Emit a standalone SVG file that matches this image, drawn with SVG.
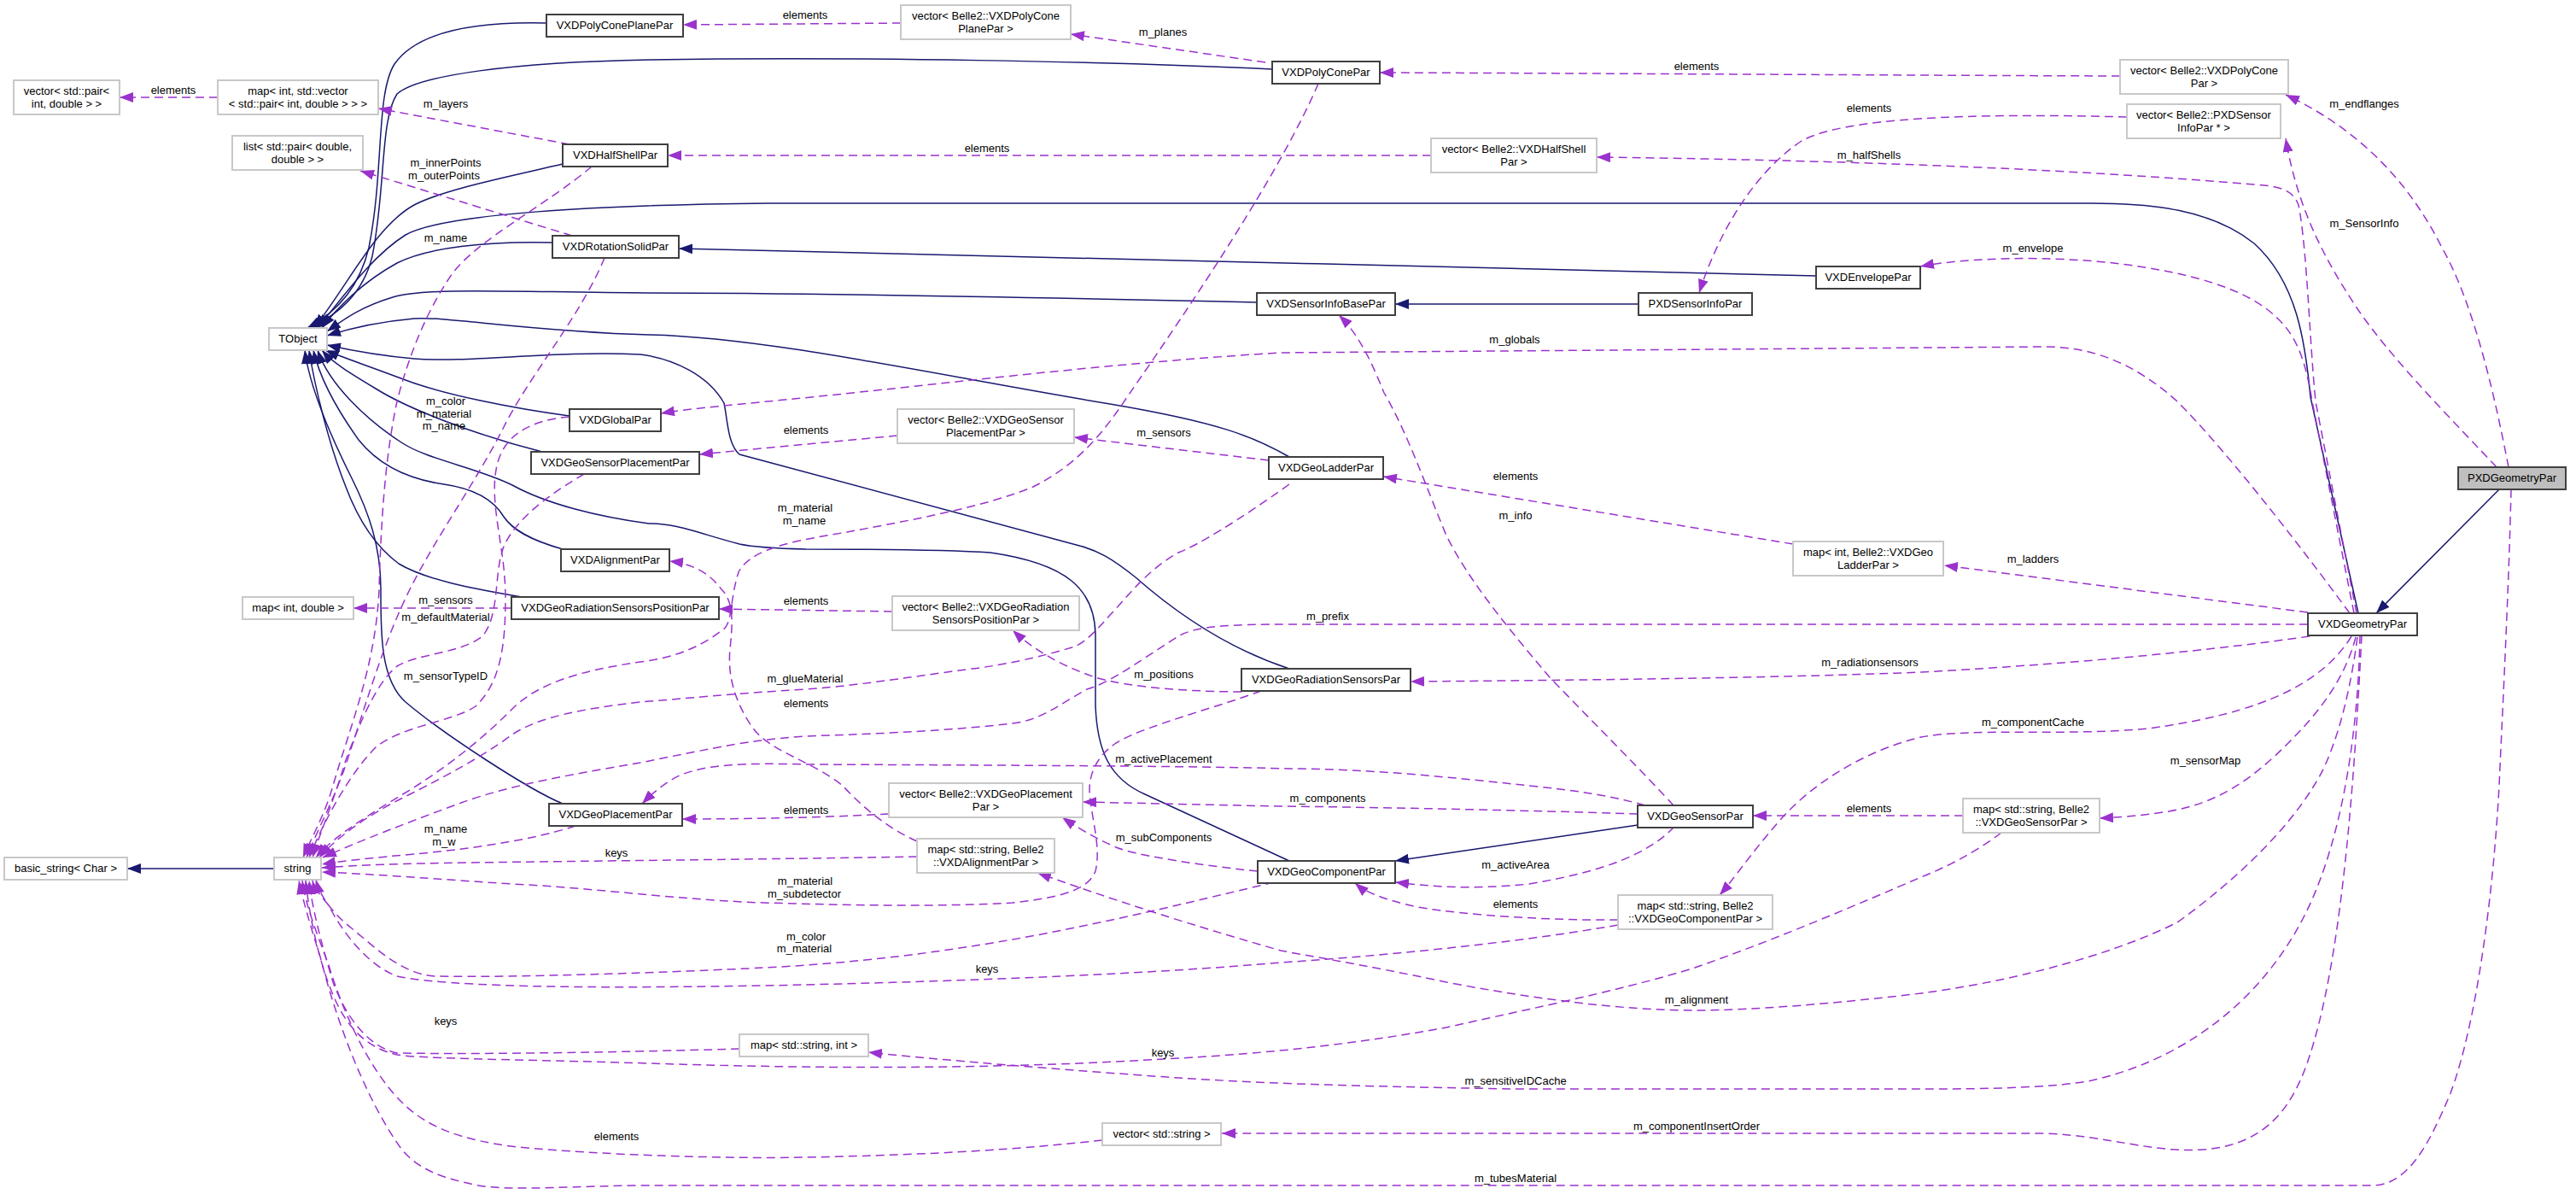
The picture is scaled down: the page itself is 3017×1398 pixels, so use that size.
<svg xmlns="http://www.w3.org/2000/svg" width="3017" height="1398" viewBox="0 0 3017 1398">
<style>
text{font-family:"Liberation Sans",Arial,sans-serif;font-size:13px;fill:#000;text-anchor:middle}
.c rect{fill:#fff;stroke:#404040;stroke-width:2}
.g rect{fill:#fff;stroke:#c8c8c8;stroke-width:2}
.h rect{fill:#bfbfbf;stroke:#404040;stroke-width:2}
.e{fill:none;stroke:#191970;stroke-width:1.5;marker-end:url(#ab)}
.u{fill:none;stroke:#9a32cd;stroke-width:1.5;stroke-dasharray:10,6;marker-end:url(#ap)}
</style>
<defs>
<marker id="ab" viewBox="0 0 16 12" refX="16" refY="6" markerWidth="16" markerHeight="12" markerUnits="userSpaceOnUse" orient="auto"><path d="M0,0L16,6L0,12z" fill="#191970"/></marker>
<marker id="ap" viewBox="0 0 16 12" refX="16" refY="6" markerWidth="16" markerHeight="12" markerUnits="userSpaceOnUse" orient="auto"><path d="M0,0L16,6L0,12z" fill="#9a32cd"/></marker>
</defs>
<rect width="3017" height="1398" fill="#fff"/>
<g id="edges">
<path class="e" d="M640,27 C560,25 490,35 462,75 C440,110 450,200 432,290 C420,340 390,368 360,384"/>
<path class="e" d="M1490,81 C1300,72 1000,66 760,70 C600,73 490,88 465,110 C445,140 452,220 436,300 C425,345 395,368 364,384"/>
<path class="e" d="M659,192 C590,208 520,222 485,240 C440,265 410,330 368,384"/>
<path class="e" d="M2762,718 L2706,465 C2700,400 2690,330 2640,285 C2590,245 2520,238 2450,238 L900,238 C700,240 520,250 475,275 C435,300 400,350 372,384"/>
<path class="e" d="M647,284 C570,282 500,290 465,308 C425,330 395,360 377,384"/>
<path class="e" d="M2127,323 C1700,313 1200,300 795,291"/>
<path class="e" d="M1472,354 C1200,348 950,343 760,343 C600,342 500,336 460,348 C420,360 400,376 383,388"/>
<path class="e" d="M1919,356 L1634,356"/>
<path class="e" d="M667,487 C600,478 520,462 475,445 C430,428 400,418 381,410"/>
<path class="e" d="M635,529 C560,510 480,480 440,455 C410,437 390,425 377,410"/>
<path class="e" d="M1510,535 C1470,512 1430,495 1300,473 C1100,440 900,395 760,392 C620,388 520,370 485,373 C440,377 405,386 383,393"/>
<path class="e" d="M659,643 C620,632 600,620 590,605 C578,585 555,572 520,567 C470,560 440,540 420,515 C395,480 375,445 367,410"/>
<path class="e" d="M611,699 C560,690 500,680 467,660 C440,640 420,610 405,570 C385,520 368,450 362,410"/>
<path class="e" d="M659,941 C620,925 520,860 475,822 C445,795 446,740 446,690 C446,640 432,600 412,560 C382,500 362,450 357,410"/>
<path class="e" d="M1510,1008 L1341,930 C1300,912 1285,880 1283,826 L1283,743 C1282,690 1250,660 1160,647 C1100,643 1000,643 944,643 C900,642 880,640 866,637 C820,625 790,612 760,613 C700,605 640,590 600,568 C560,548 500,538 470,518 C430,492 385,450 372,410"/>
<path class="e" d="M1510,783 C1440,760 1380,720 1330,676 C1300,652 1285,645 1268,640 L866,532 C852,520 852,490 848,472 C830,440 790,420 750,415 C650,410 550,425 485,420 C440,416 410,410 383,404"/>
<path class="e" d="M321,1017 L149,1017"/>
<path class="e" d="M2927,573 L2783,718"/>
<path class="e" d="M1918,966 L1634,1008"/>
<path class="u" d="M255,114 L140,114"/>
<path class="u" d="M667,169 L443,127"/>
<path class="u" d="M670,276 L422,200"/>
<path class="u" d="M1055,27 L800,29"/>
<path class="u" d="M1482,73 L1254,40"/>
<path class="u" d="M2483,89 C2200,88 1900,86 1616,85"/>
<path class="u" d="M2938,547 C2925,480 2900,360 2860,290 C2820,210 2760,150 2677,111"/>
<path class="u" d="M2924,547 C2880,500 2800,420 2760,360 C2720,300 2690,240 2677,162"/>
<path class="u" d="M2760,718 L2712,470 C2705,400 2702,290 2692,240 C2685,222 2670,218 2640,216 C2450,200 2200,188 1870,184"/>
<path class="u" d="M2491,137 C2300,132 2160,138 2110,165 C2050,205 2010,280 1990,343"/>
<path class="u" d="M1676,182 L782,182"/>
<path class="u" d="M2757,718 L2708,470 C2700,420 2690,400 2677,383 C2650,350 2600,325 2492,310 C2400,298 2300,302 2249,312"/>
<path class="u" d="M2752,718 C2680,620 2600,520 2550,470 C2500,425 2450,406 2395,406 L1500,413 C1300,425 1100,450 950,465 C870,473 810,478 774,484"/>
<path class="u" d="M2703,717 L2277,662"/>
<path class="u" d="M2100,637 L1620,558"/>
<path class="u" d="M1486,539 L1258,512"/>
<path class="u" d="M1051,510 L819,532"/>
<path class="u" d="M2703,731 L1510,731 C1440,731 1400,733 1380,745 C1340,770 1300,800 1273,807 C1240,825 1220,843 1186,847 C1100,857 1000,860 944,862 C880,866 840,875 750,893 C680,905 600,918 540,940 C480,962 420,985 378,1004"/>
<path class="u" d="M1510,567 C1450,610 1400,640 1380,647 C1340,670 1320,700 1300,720 C1283,740 1270,752 1259,757 C1200,775 1150,782 1138,783 C1050,795 1000,803 944,807 C860,812 800,818 750,822 C680,830 630,840 600,860 C560,890 500,920 470,935 C430,955 395,980 374,1004"/>
<path class="u" d="M1544,98 C1500,200 1400,350 1320,465 C1290,510 1260,545 1210,570 C1150,595 1050,612 992,623 C940,632 880,640 865,670 C855,700 858,730 847,737 C820,758 790,770 750,775 C680,785 630,800 600,830 C560,870 520,900 480,925 C430,955 390,980 370,1004"/>
<path class="u" d="M693,195 C640,240 560,280 530,320 C495,370 475,430 465,470 C450,540 446,620 444,690 C440,780 410,850 390,920 C380,955 365,980 355,1004"/>
<path class="u" d="M708,302 C680,370 620,440 590,500 C560,560 510,630 480,690 C450,750 430,820 410,880 C395,930 370,975 359,1004"/>
<path class="u" d="M667,488 C620,492 590,510 582,545 C572,590 592,640 592,700 C592,760 585,800 557,827 C530,845 470,850 440,875 C410,905 380,960 362,1004"/>
<path class="u" d="M684,555 C650,575 605,605 590,640 C578,670 586,720 565,745 C540,765 490,765 465,780 C440,800 420,850 405,890 C390,940 375,975 366,1004"/>
<path class="u" d="M599,712 L414,712"/>
<path class="u" d="M674,967 C620,985 540,995 485,1000 C440,1004 400,1008 377,1012"/>
<path class="u" d="M1074,1003 C900,1006 700,1008 550,1010 C470,1011 420,1013 377,1016"/>
<path class="u" d="M1477,809 C1420,830 1340,850 1307,870 C1285,885 1276,905 1276,925 C1278,960 1290,990 1283,1020 C1275,1040 1250,1050 1186,1057 C1100,1062 1000,1060 895,1057 C800,1054 700,1040 600,1035 C520,1030 450,1024 377,1021"/>
<path class="u" d="M1492,1033 C1420,1050 1300,1080 1186,1100 C1100,1115 1000,1128 895,1133 C800,1138 600,1145 509,1143 C470,1140 440,1110 412,1087 C390,1070 375,1050 370,1030"/>
<path class="u" d="M1895,1083 C1800,1100 1650,1117 1500,1127 C1350,1140 1150,1148 944,1153 C800,1156 550,1160 465,1143 C430,1130 400,1090 385,1060 C375,1048 368,1040 366,1031"/>
<path class="u" d="M866,1228 C800,1230 600,1235 465,1233 C430,1225 405,1190 390,1150 C375,1100 365,1060 362,1031"/>
<path class="u" d="M2344,975 C2310,1000 2280,1015 2250,1027 C2180,1057 2080,1100 1985,1133 C1900,1160 1750,1190 1694,1203 C1600,1220 1500,1233 1362,1240 C1200,1250 1000,1253 760,1245 C600,1240 500,1240 465,1235 C420,1225 400,1190 388,1160 C372,1120 362,1070 358,1031"/>
<path class="u" d="M2764,744 C2762,850 2745,980 2700,1070 C2650,1170 2560,1240 2450,1265 C2400,1275 2300,1275 2250,1275 L1775,1275 C1650,1273 1500,1270 1380,1262 C1250,1253 1100,1241 1017,1232"/>
<path class="u" d="M2766,744 C2758,900 2745,1100 2710,1220 C2690,1290 2660,1340 2580,1346 C2520,1350 2470,1330 2395,1327 L1431,1327"/>
<path class="u" d="M1291,1335 C1200,1345 1100,1352 944,1355 C850,1357 700,1352 606,1343 C540,1335 500,1320 470,1290 C430,1250 400,1180 385,1130 C370,1090 358,1060 354,1031"/>
<path class="u" d="M2941,573 C2938,700 2930,850 2927,920 C2920,1050 2900,1200 2870,1280 C2845,1340 2820,1388 2778,1388 L760,1388 C680,1388 600,1395 560,1388 C520,1380 490,1370 470,1345 C430,1290 395,1200 375,1120 C362,1080 354,1050 350,1031"/>
<path class="u" d="M1960,943 C1930,910 1870,850 1815,793 C1770,740 1720,680 1694,627 C1670,570 1650,510 1621,460 C1605,420 1590,390 1568,369"/>
<path class="u" d="M1918,953 C1800,949 1600,945 1500,944 C1400,942 1320,940 1268,939"/>
<path class="u" d="M1927,943 C1880,930 1840,925 1791,920 C1700,910 1600,900 1510,900 C1400,897 1200,896 944,895 C870,893 830,895 798,907 C780,915 765,928 752,941"/>
<path class="u" d="M1961,968 C1930,1000 1880,1020 1791,1035 C1720,1042 1680,1038 1634,1033"/>
<path class="u" d="M2299,955 L2053,955"/>
<path class="u" d="M1895,1077 C1820,1078 1720,1072 1660,1062 C1620,1053 1600,1045 1587,1034"/>
<path class="u" d="M1473,1020 C1420,1015 1330,1002 1307,992 C1280,980 1260,968 1244,957"/>
<path class="u" d="M1041,953 C950,958 850,959 799,959"/>
<path class="u" d="M1045,716 L842,713"/>
<path class="u" d="M1074,985 C1040,970 1010,945 987,920 C950,890 900,880 880,850 C860,820 852,790 855,760 C858,730 860,705 845,690 C830,670 810,660 784,657"/>
<path class="u" d="M1454,810 C1400,810 1320,805 1283,793 C1250,782 1215,765 1186,738"/>
<path class="u" d="M2754,745 C2720,800 2650,835 2516,853 C2420,862 2310,852 2250,863 C2180,880 2120,920 2085,960 C2050,1000 2030,1030 2014,1048"/>
<path class="u" d="M2759,746 C2745,800 2710,840 2680,870 C2640,910 2600,940 2540,950 C2510,955 2480,957 2459,958"/>
<path class="u" d="M2761,746 C2750,830 2730,890 2710,920 C2680,970 2620,1030 2550,1080 C2470,1120 2350,1150 2250,1163 C2150,1175 2050,1183 1987,1183 C1900,1183 1800,1170 1694,1150 C1600,1130 1520,1117 1500,1113 C1420,1090 1330,1063 1215,1022"/>
<path class="u" d="M2705,745 C2600,760 2450,776 2250,787 C2100,793 1900,796 1652,798"/>
<text x="203" y="110">elements</text>
<text x="522" y="126">m_layers</text>
<text x="522" y="195">m_innerPoints</text>
<text x="520" y="210">m_outerPoints</text>
<text x="522" y="283">m_name</text>
<text x="943" y="22">elements</text>
<text x="1362" y="42">m_planes</text>
<text x="1987" y="82">elements</text>
<text x="2769" y="126">m_endflanges</text>
<text x="2189" y="131">elements</text>
<text x="2189" y="186">m_halfShells</text>
<text x="1156" y="178">elements</text>
<text x="2769" y="266">m_SensorInfo</text>
<text x="2381" y="295">m_envelope</text>
<text x="1774" y="402">m_globals</text>
<text x="522" y="474">m_color</text>
<text x="520" y="489">m_material</text>
<text x="520" y="503">m_name</text>
<text x="944" y="508">elements</text>
<text x="1363" y="511">m_sensors</text>
<text x="1775" y="562">elements</text>
<text x="943" y="599">m_material</text>
<text x="942" y="614">m_name</text>
<text x="1775" y="608">m_info</text>
<text x="2381" y="659">m_ladders</text>
<text x="522" y="707">m_sensors</text>
<text x="522" y="727">m_defaultMaterial</text>
<text x="944" y="708">elements</text>
<text x="1555" y="726">m_prefix</text>
<text x="2190" y="780">m_radiationsensors</text>
<text x="522" y="796">m_sensorTypeID</text>
<text x="943" y="799">m_glueMaterial</text>
<text x="1363" y="794">m_positions</text>
<text x="944" y="828">elements</text>
<text x="2381" y="850">m_componentCache</text>
<text x="1363" y="893">m_activePlacement</text>
<text x="2583" y="895">m_sensorMap</text>
<text x="1555" y="939">m_components</text>
<text x="2189" y="951">elements</text>
<text x="944" y="953">elements</text>
<text x="522" y="975">m_name</text>
<text x="520" y="990">m_w</text>
<text x="722" y="1003">keys</text>
<text x="1363" y="985">m_subComponents</text>
<text x="1775" y="1017">m_activeArea</text>
<text x="943" y="1036">m_material</text>
<text x="942" y="1051">m_subdetector</text>
<text x="1775" y="1063">elements</text>
<text x="944" y="1101">m_color</text>
<text x="942" y="1115">m_material</text>
<text x="1156" y="1139">keys</text>
<text x="1987" y="1175">m_alignment</text>
<text x="522" y="1200">keys</text>
<text x="1362" y="1237">keys</text>
<text x="1775" y="1270">m_sensitiveIDCache</text>
<text x="1987" y="1323">m_componentInsertOrder</text>
<text x="722" y="1335">elements</text>
<text x="1775" y="1384">m_tubesMaterial</text>
</g>
<g id="n_vecpair" class="g"><rect x="16" y="94" width="124" height="40"/><text x="78" y="111">vector&lt; std::pair&lt;</text><text x="78" y="125.5">int, double &gt; &gt;</text></g>
<g id="n_mapvec" class="g"><rect x="255" y="94" width="188" height="40"/><text x="349" y="111">map&lt; int, std::vector</text><text x="349" y="125.5">&lt; std::pair&lt; int, double &gt; &gt; &gt;</text></g>
<g id="n_list" class="g"><rect x="272" y="159" width="153" height="40"/><text x="348.5" y="176">list&lt; std::pair&lt; double,</text><text x="348.5" y="190.5">double &gt; &gt;</text></g>
<g id="n_TObject" class="g"><rect x="315" y="384" width="68" height="26"/><text x="349" y="401">TObject</text></g>
<g id="n_VXDPolyConePlanePar" class="c"><rect x="640" y="17" width="160" height="26"/><text x="720" y="34">VXDPolyConePlanePar</text></g>
<g id="n_vecPolyConePlane" class="g"><rect x="1055" y="6" width="199" height="40"/><text x="1154.5" y="23">vector&lt; Belle2::VXDPolyCone</text><text x="1154.5" y="37.5">PlanePar &gt;</text></g>
<g id="n_VXDPolyConePar" class="c"><rect x="1490" y="72" width="126" height="26"/><text x="1553" y="89">VXDPolyConePar</text></g>
<g id="n_vecPolyCone" class="g"><rect x="2483" y="70" width="197" height="40"/><text x="2581.5" y="87">vector&lt; Belle2::VXDPolyCone</text><text x="2581.5" y="101.5">Par &gt;</text></g>
<g id="n_vecPXDSensorInfo" class="g"><rect x="2491" y="122" width="180" height="40"/><text x="2581" y="139">vector&lt; Belle2::PXDSensor</text><text x="2581" y="153.5">InfoPar * &gt;</text></g>
<g id="n_VXDHalfShellPar" class="c"><rect x="659" y="169" width="123" height="26"/><text x="720.5" y="186">VXDHalfShellPar</text></g>
<g id="n_vecHalfShell" class="g"><rect x="1676" y="162" width="194" height="40"/><text x="1773" y="179">vector&lt; Belle2::VXDHalfShell</text><text x="1773" y="193.5">Par &gt;</text></g>
<g id="n_VXDRotationSolidPar" class="c"><rect x="647" y="276" width="148" height="26"/><text x="721" y="293">VXDRotationSolidPar</text></g>
<g id="n_VXDEnvelopePar" class="c"><rect x="2127" y="312" width="122" height="26"/><text x="2188" y="329">VXDEnvelopePar</text></g>
<g id="n_VXDSensorInfoBasePar" class="c"><rect x="1472" y="343" width="162" height="26"/><text x="1553" y="360">VXDSensorInfoBasePar</text></g>
<g id="n_PXDSensorInfoPar" class="c"><rect x="1919" y="343" width="133" height="26"/><text x="1985.5" y="360">PXDSensorInfoPar</text></g>
<g id="n_VXDGlobalPar" class="c"><rect x="667" y="479" width="107" height="26"/><text x="720.5" y="496">VXDGlobalPar</text></g>
<g id="n_VXDGeoSensorPlacementPar" class="c"><rect x="622" y="529" width="197" height="26"/><text x="720.5" y="546">VXDGeoSensorPlacementPar</text></g>
<g id="n_vecGeoSensorPlacement" class="g"><rect x="1051" y="479" width="207" height="40"/><text x="1154.5" y="496">vector&lt; Belle2::VXDGeoSensor</text><text x="1154.5" y="510.5">PlacementPar &gt;</text></g>
<g id="n_VXDGeoLadderPar" class="c"><rect x="1486" y="535" width="134" height="26"/><text x="1553" y="552">VXDGeoLadderPar</text></g>
<g id="n_mapGeoLadder" class="g"><rect x="2100" y="634" width="176" height="40"/><text x="2188" y="651">map&lt; int, Belle2::VXDGeo</text><text x="2188" y="665.5">LadderPar &gt;</text></g>
<g id="n_VXDAlignmentPar" class="c"><rect x="657" y="643" width="127" height="26"/><text x="720.5" y="660">VXDAlignmentPar</text></g>
<g id="n_mapIntDouble" class="g"><rect x="284" y="699" width="130" height="26"/><text x="349" y="716">map&lt; int, double &gt;</text></g>
<g id="n_VXDGeoRadiationSensorsPositionPar" class="c"><rect x="599" y="699" width="243" height="26"/><text x="720.5" y="716">VXDGeoRadiationSensorsPositionPar</text></g>
<g id="n_vecGeoRadiation" class="g"><rect x="1045" y="698" width="219" height="40"/><text x="1154.5" y="715">vector&lt; Belle2::VXDGeoRadiation</text><text x="1154.5" y="729.5">SensorsPositionPar &gt;</text></g>
<g id="n_VXDGeometryPar" class="c"><rect x="2703" y="718" width="128" height="26"/><text x="2767" y="735">VXDGeometryPar</text></g>
<g id="n_PXDGeometryPar" class="h"><rect x="2879" y="547" width="126" height="26"/><text x="2942" y="564">PXDGeometryPar</text></g>
<g id="n_VXDGeoRadiationSensorsPar" class="c"><rect x="1454" y="783" width="198" height="26"/><text x="1553" y="800">VXDGeoRadiationSensorsPar</text></g>
<g id="n_VXDGeoPlacementPar" class="c"><rect x="643" y="941" width="156" height="26"/><text x="721" y="958">VXDGeoPlacementPar</text></g>
<g id="n_vecGeoPlacement" class="g"><rect x="1041" y="917" width="227" height="40"/><text x="1154.5" y="934">vector&lt; Belle2::VXDGeoPlacement</text><text x="1154.5" y="948.5">Par &gt;</text></g>
<g id="n_mapAlignment" class="g"><rect x="1074" y="982" width="161" height="40"/><text x="1154.5" y="999">map&lt; std::string, Belle2</text><text x="1154.5" y="1013.5">::VXDAlignmentPar &gt;</text></g>
<g id="n_VXDGeoSensorPar" class="c"><rect x="1918" y="943" width="135" height="26"/><text x="1985.5" y="960">VXDGeoSensorPar</text></g>
<g id="n_mapGeoSensor" class="g"><rect x="2299" y="935" width="160" height="40"/><text x="2379" y="952">map&lt; std::string, Belle2</text><text x="2379" y="966.5">::VXDGeoSensorPar &gt;</text></g>
<g id="n_VXDGeoComponentPar" class="c"><rect x="1473" y="1008" width="161" height="26"/><text x="1553.5" y="1025">VXDGeoComponentPar</text></g>
<g id="n_mapGeoComponent" class="g"><rect x="1895" y="1048" width="181" height="40"/><text x="1985.5" y="1065">map&lt; std::string, Belle2</text><text x="1985.5" y="1079.5">::VXDGeoComponentPar &gt;</text></g>
<g id="n_basic_string" class="g"><rect x="5" y="1004" width="144" height="26"/><text x="77" y="1021">basic_string&lt; Char &gt;</text></g>
<g id="n_string" class="g"><rect x="321" y="1004" width="55" height="26"/><text x="348.5" y="1021">string</text></g>
<g id="n_mapStringInt" class="g"><rect x="866" y="1211" width="151" height="26"/><text x="941.5" y="1228">map&lt; std::string, int &gt;</text></g>
<g id="n_vecString" class="g"><rect x="1291" y="1315" width="139" height="26"/><text x="1360.5" y="1332">vector&lt; std::string &gt;</text></g>
</svg>
